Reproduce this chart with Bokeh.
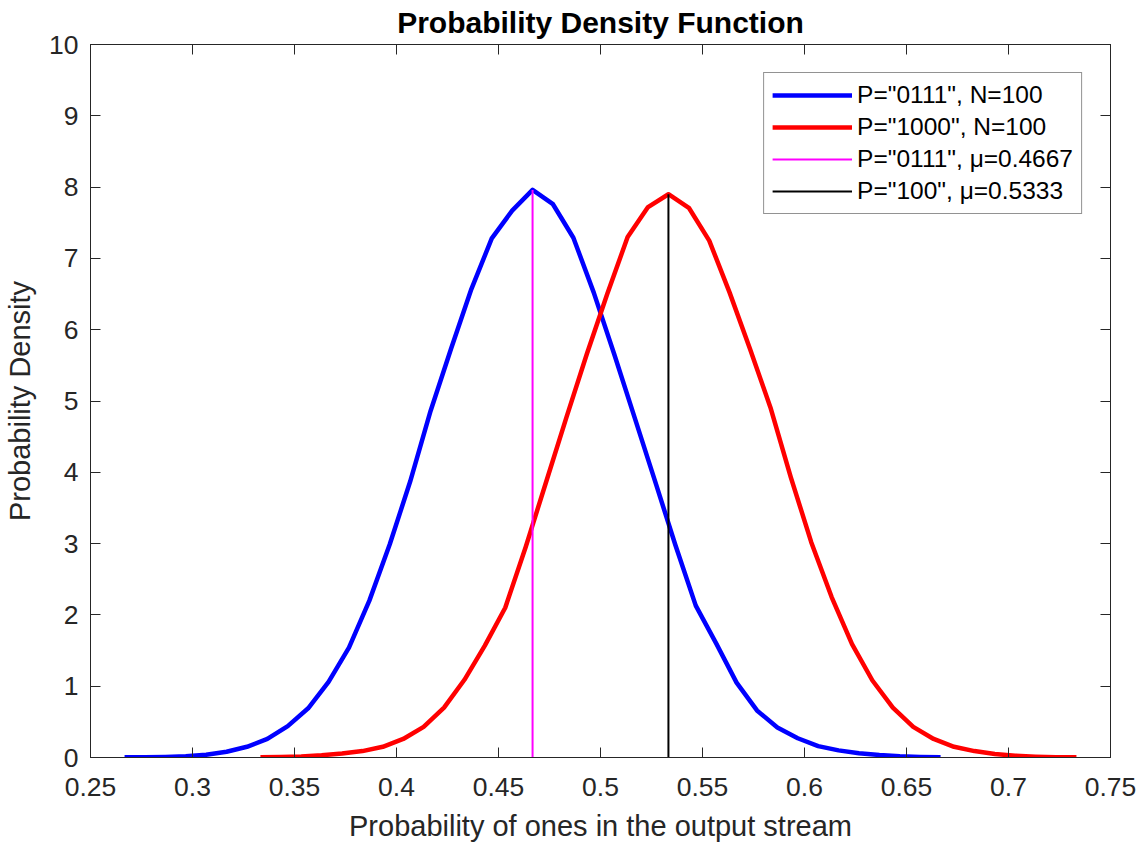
from bokeh.plotting import figure
from bokeh.models import LinearAxis, FixedTicker, Range1d, CustomLabelingPolicy
from bokeh.embed import file_html
from bokeh.resources import INLINE

# ---- data ----
x_p0111 = [0.2667, 0.2767, 0.2867, 0.2967, 0.3067, 0.3167, 0.3267, 0.3367, 0.3467, 0.3567,
           0.3667, 0.3767, 0.3867, 0.3967, 0.4067, 0.4167, 0.4267, 0.4367, 0.4467, 0.4567,
           0.4667, 0.4767, 0.4867, 0.4967, 0.5067, 0.5167, 0.5267, 0.5367, 0.5467, 0.5567,
           0.5667, 0.5767, 0.5867, 0.5967, 0.6067, 0.6167, 0.6267, 0.6367, 0.6467, 0.6567,
           0.6667]
pdf_p0111 = [0.002, 0.004, 0.008, 0.018, 0.038, 0.08, 0.15, 0.26, 0.44, 0.69,
             1.06, 1.54, 2.20, 2.99, 3.87, 4.86, 5.73, 6.57, 7.28, 7.67,
             7.96, 7.76, 7.29, 6.52, 5.66, 4.77, 3.88, 2.98, 2.13, 1.60,
             1.05, 0.66, 0.42, 0.27, 0.16, 0.10, 0.06, 0.035, 0.018, 0.008,
             0.003]

x_p1000 = [0.3333, 0.3433, 0.3533, 0.3633, 0.3733, 0.3833, 0.3933, 0.4033, 0.4133, 0.4233,
           0.4333, 0.4433, 0.4533, 0.4633, 0.4733, 0.4833, 0.4933, 0.5033, 0.5133, 0.5233,
           0.5333, 0.5433, 0.5533, 0.5633, 0.5733, 0.5833, 0.5933, 0.6033, 0.6133, 0.6233,
           0.6333, 0.6433, 0.6533, 0.6633, 0.6733, 0.6833, 0.6933, 0.7033, 0.7133, 0.7233,
           0.7333]
pdf_p1000 = [0.003, 0.007, 0.015, 0.03, 0.055, 0.09, 0.15, 0.26, 0.43, 0.70,
             1.09, 1.57, 2.10, 2.95, 3.86, 4.77, 5.66, 6.50, 7.30, 7.72,
             7.90, 7.71, 7.25, 6.52, 5.73, 4.91, 3.93, 3.02, 2.25, 1.59,
             1.08, 0.70, 0.43, 0.26, 0.15, 0.09, 0.05, 0.025, 0.012, 0.005,
             0.002]

mu_values = [0.4667, 0.5333]
mu_tops = [max(pdf_p0111), max(pdf_p1000)]

legend_labels = ['P="0111", N=100', 'P="1000", N=100',
                 'P="0111", μ=0.4667', 'P="100", μ=0.5333']

x_ticks = [0.25, 0.3, 0.35, 0.4, 0.45, 0.5, 0.55, 0.6, 0.65, 0.7, 0.75]
x_tick_labels = ["0.25", "0.3", "0.35", "0.4", "0.45", "0.5", "0.55", "0.6", "0.65", "0.7", "0.75"]
y_ticks = [0, 1, 2, 3, 4, 5, 6, 7, 8, 9, 10]

FONT = "Liberation Sans"
AX = "#262626"

p = figure(frame_width=1020, frame_height=713,
           min_border_left=90, min_border_right=30, min_border_top=44, min_border_bottom=84,
           x_range=Range1d(0.25, 0.75), y_range=Range1d(0, 10),
           output_backend="svg", toolbar_location=None,
           title="Probability Density Function")

p.title.text_font = FONT
p.title.text_font_size = "30px"
p.title.text_font_style = "bold"
p.title.text_color = "black"
p.title.align = "center"
p.title.standoff = 4

p.xgrid.visible = False
p.ygrid.visible = False
p.outline_line_color = AX
p.outline_line_width = 1
p.background_fill_color = "white"
p.border_fill_color = "white"

def style_axis(ax, ticks, show_labels=True):
    ax.ticker = FixedTicker(ticks=ticks)
    ax.axis_line_color = AX
    ax.axis_line_width = 1
    ax.major_tick_line_color = AX
    ax.major_tick_in = 10
    ax.major_tick_out = 0
    ax.minor_tick_line_color = None
    ax.major_label_text_font = FONT
    ax.major_label_text_color = AX
    if show_labels:
        ax.major_label_text_font_size = "26.5px"
    else:
        ax.major_label_text_font_size = "1px"
        ax.major_label_standoff = 0
        ax.major_label_policy = CustomLabelingPolicy(code="return [];")
    ax.axis_label_text_font = FONT
    ax.axis_label_text_font_size = "29px"
    ax.axis_label_text_font_style = "normal"
    ax.axis_label_text_color = AX

xa = p.xaxis[0]
style_axis(xa, x_ticks)
xa.major_label_overrides = dict(zip(x_ticks, x_tick_labels))
xa.major_label_standoff = 20
xa.axis_label = "Probability of ones in the output stream"
xa.axis_label_standoff = 11

ya = p.yaxis[0]
style_axis(ya, y_ticks)
ya.major_label_standoff = 12
ya.axis_label = "Probability Density"
ya.axis_label_standoff = 10

top_ax = LinearAxis()
style_axis(top_ax, x_ticks, show_labels=False)
p.add_layout(top_ax, "above")
right_ax = LinearAxis()
style_axis(right_ax, y_ticks, show_labels=False)
p.add_layout(right_ax, "right")

p.line(x_p0111, pdf_p0111, line_color="#0000FF", line_width=4.5, line_join="round",
       legend_label=legend_labels[0])
p.line(x_p1000, pdf_p1000, line_color="#FF0000", line_width=4.5, line_join="round",
       legend_label=legend_labels[1])
p.line([mu_values[0], mu_values[0]], [0, mu_tops[0]], line_color="#FF00FF", line_width=2,
       legend_label=legend_labels[2])
p.line([mu_values[1], mu_values[1]], [0, mu_tops[1]], line_color="#000000", line_width=2,
       legend_label=legend_labels[3])

lg = p.legend[0]
lg.location = "top_right"
lg.margin = 28
lg.padding = 8
lg.spacing = 4
lg.glyph_width = 80
lg.glyph_height = 28
lg.label_height = 28
lg.label_standoff = 5
lg.label_text_font = FONT
lg.label_text_font_size = "24.5px"
lg.label_text_color = "black"
lg.border_line_color = AX
lg.border_line_width = 1
lg.background_fill_color = "white"
lg.background_fill_alpha = 1.0

open("out.html", "w").write(file_html(p, INLINE))
